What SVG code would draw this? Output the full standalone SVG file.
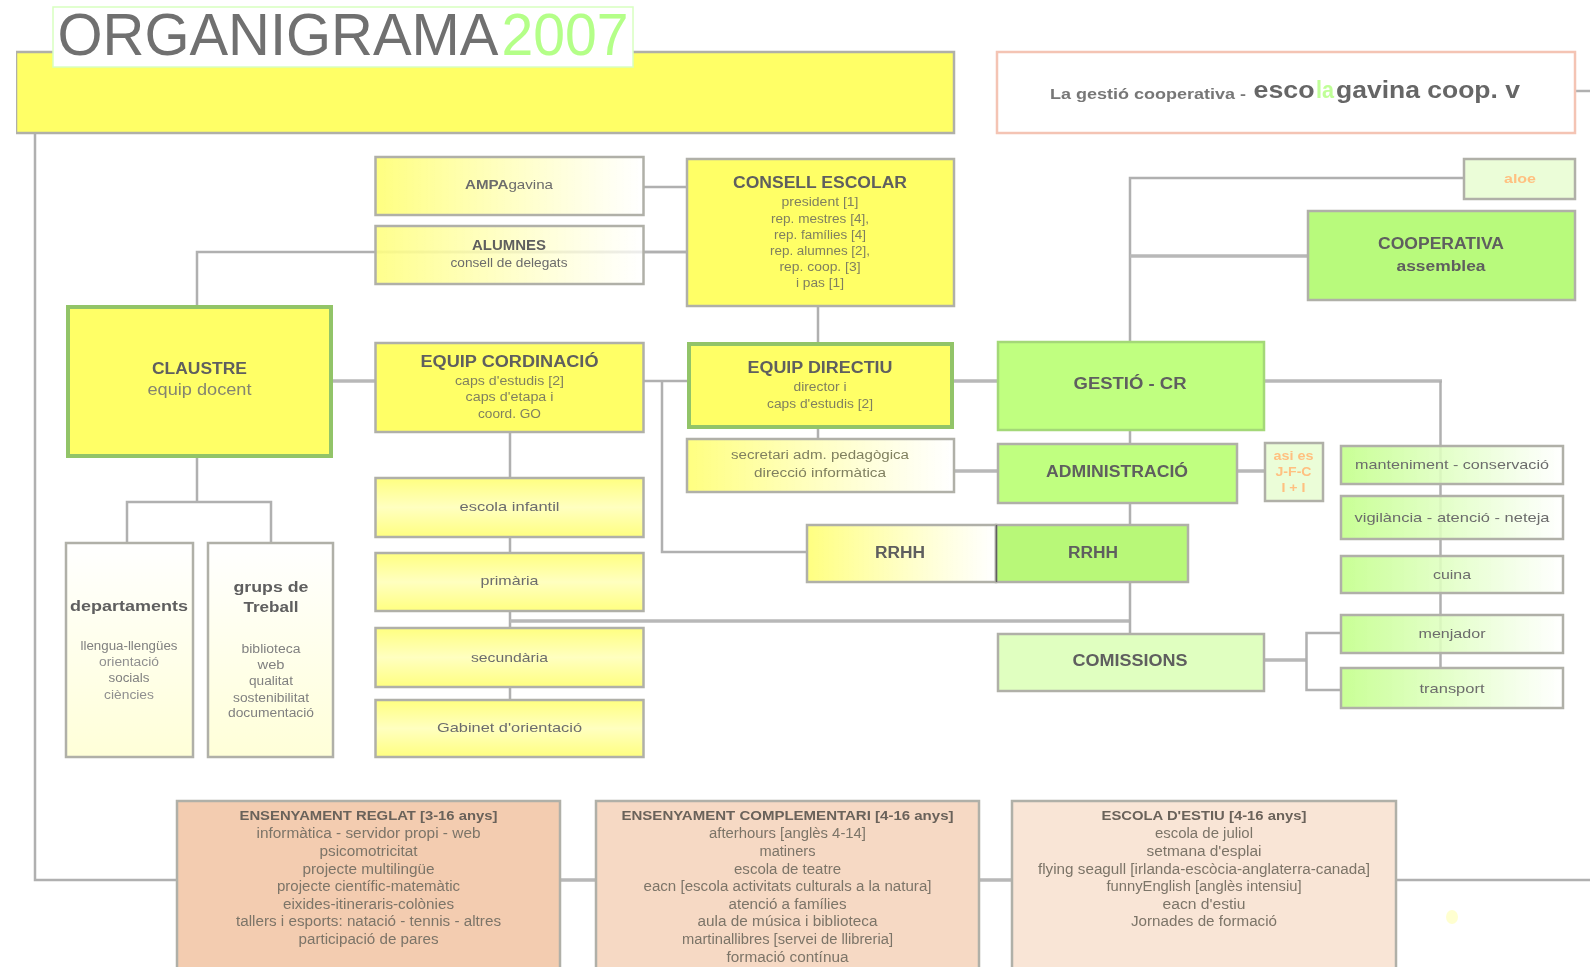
<svg xmlns="http://www.w3.org/2000/svg" width="1590" height="967" viewBox="0 0 1590 967">
<style>
text{font-family:"Liberation Sans",Arial,sans-serif;text-anchor:middle;fill:#6a6a6a}
.b{font-weight:700;font-size:16px;fill:#5e5e5e}
.s{font-size:12.5px;fill:#808060}
.m{font-size:13px;fill:#6c6c6c}
.o{font-size:12px;fill:#ffc080;font-weight:700}
.f{font-size:14px;fill:#7c7468}
.h{font-size:13.5px;font-weight:700;fill:#6a625a}
.box{stroke:#b0b0a8;stroke-width:2.5}
.con path{fill:none;stroke:#b0b0b0;stroke-width:2.5}
.con .w{stroke-width:3.5;stroke:#b8b8b8}
</style>
<defs>
<linearGradient id="yw" x1="0" x2="1" y1="0" y2="0"><stop offset="0" stop-color="#ffff80"/><stop offset="1" stop-color="#ffffff" stop-opacity=".85"/></linearGradient>
<linearGradient id="gw" x1="0" x2="1" y1="0" y2="0"><stop offset="0" stop-color="#c4ff8c" stop-opacity=".92"/><stop offset="1" stop-color="#ffffff" stop-opacity=".85"/></linearGradient>
<linearGradient id="lev" x1="0" x2="0" y1="0" y2="1"><stop offset="0" stop-color="#ffff80"/><stop offset=".5" stop-color="#ffffc0"/><stop offset="1" stop-color="#ffff80"/></linearGradient>
<linearGradient id="pale" x1="0" x2="0" y1="0" y2="1"><stop offset="0" stop-color="#ffffff"/><stop offset="1" stop-color="#ffffd8"/></linearGradient>
<filter id="soft" x="0" y="0" width="100%" height="100%"><feGaussianBlur stdDeviation="0.7"/></filter>
</defs>
<rect width="1590" height="967" fill="#ffffff"/>
<g filter="url(#soft)">
<g id="connectors" class="con">
<path d="M35 133V880H177"/>
<path class="w" d="M560 880H596M979 880H1012"/>
<path d="M1396 880H1590"/>
<path d="M1575 91H1590"/>
<path d="M643 187H687M643 252H687"/>
<path d="M818 306V342M818 428V438"/>
<path d="M700 252H197V305"/>
<path d="M375 252H643"/>
<path class="w" d="M332 381H375"/>
<path d="M643 381H687"/>
<path d="M197 457V502M127 543V502H271V543"/>
<path d="M510 432V700"/>
<path class="w" d="M510 621H1130"/>
<path d="M662 381V552H807"/>
<path class="w" d="M954 381H998M954 471H998M1237 471H1265M1264 660H1306"/>
<path d="M1464 178H1130V342"/>
<path class="w" d="M1130 256H1308"/>
<path d="M1130 430V443M1130 503V525M1130 582V634"/>
<path class="w" d="M1264 381H1442"/>
<path d="M1440.500 381V668"/>
<path d="M1341 633H1306.500V690H1341"/>
</g>
<g id="n-banner"><rect class="box" x="16" y="52" width="938" height="81" fill="#ffff66"/></g>
<g id="n-title"><rect x="53" y="7" width="580" height="60" fill="#fff" stroke="#d8ffc0" stroke-width="1.500"/>
<text x="278" y="55" font-size="60" style="fill:#707070" textLength="441" lengthAdjust="spacingAndGlyphs">ORGANIGRAMA</text>
<text x="565" y="55" font-size="60" style="fill:#b4ff88" textLength="127" lengthAdjust="spacingAndGlyphs">2007</text></g>
<g id="n-gestio-coop"><rect x="997" y="52" width="578" height="81" fill="#fff" stroke="#f4c4b4" stroke-width="2.500"/>
<text x="1148" y="99" style="font-size:15px;font-weight:700;fill:#777" textLength="196" lengthAdjust="spacingAndGlyphs">La gestió cooperativa -</text>
<text x="1284" y="98" style="font-size:24px;font-weight:700;fill:#666" textLength="61" lengthAdjust="spacingAndGlyphs">esco</text>
<text x="1325" y="98" style="font-size:24px;font-weight:700;fill:#c0ff98" textLength="18" lengthAdjust="spacingAndGlyphs">la</text>
<text x="1428" y="98" style="font-size:24px;font-weight:700;fill:#666" textLength="184" lengthAdjust="spacingAndGlyphs">gavina coop. v</text></g>
<g id="n-ampa"><rect class="box" x="375.500" y="157" width="268" height="58" fill="url(#yw)"/>
<text x="509" y="189" class="m" style="font-weight:700" textLength="88" lengthAdjust="spacingAndGlyphs">AMPA<tspan font-weight="400">gavina</tspan></text></g>
<g id="n-alumnes"><rect class="box" x="375.500" y="226" width="268" height="58" fill="url(#yw)" fill-opacity=".9"/>
<text x="509" y="250" class="b" style="font-size:14px" textLength="74" lengthAdjust="spacingAndGlyphs">ALUMNES</text>
<text x="509" y="267" class="m" textLength="117" lengthAdjust="spacingAndGlyphs">consell de delegats</text></g>
<g id="n-consell"><rect class="box" x="687" y="159" width="267" height="147" fill="#ffff66"/>
<text x="820" y="188" class="b" textLength="174" lengthAdjust="spacingAndGlyphs">CONSELL ESCOLAR</text>
<text x="820" y="206" class="s" textLength="77" lengthAdjust="spacingAndGlyphs">president [1]</text>
<text x="820" y="223" class="s" textLength="98" lengthAdjust="spacingAndGlyphs">rep. mestres [4],</text>
<text x="820" y="239" class="s" textLength="92" lengthAdjust="spacingAndGlyphs">rep. famílies [4]</text>
<text x="820" y="255" class="s" textLength="100" lengthAdjust="spacingAndGlyphs">rep. alumnes [2],</text>
<text x="820" y="271" class="s" textLength="81" lengthAdjust="spacingAndGlyphs">rep. coop. [3]</text>
<text x="820" y="287" class="s" textLength="48" lengthAdjust="spacingAndGlyphs">i pas [1]</text></g>
<g id="n-claustre"><rect x="68" y="307" width="263" height="149" fill="#ffff66" stroke="#92c468" stroke-width="4"/>
<text x="199.500" y="374" class="b" textLength="95" lengthAdjust="spacingAndGlyphs">CLAUSTRE</text>
<text x="199.500" y="395" class="m" style="font-size:16px;fill:#858570" textLength="104" lengthAdjust="spacingAndGlyphs">equip docent</text></g>
<g id="n-cordinacio"><rect class="box" x="375.500" y="343" width="268" height="89" fill="#ffff66"/>
<text x="509.500" y="367" class="b" textLength="178" lengthAdjust="spacingAndGlyphs">EQUIP CORDINACIÓ</text>
<text x="509.500" y="385" class="s" textLength="109" lengthAdjust="spacingAndGlyphs">caps d'estudis [2]</text>
<text x="509.500" y="401" class="s" textLength="88" lengthAdjust="spacingAndGlyphs">caps d'etapa i</text>
<text x="509.500" y="418" class="s" textLength="63" lengthAdjust="spacingAndGlyphs">coord. GO</text></g>
<g id="n-departaments"><rect class="box" x="66" y="543" width="127" height="214" fill="url(#pale)"/>
<text x="129" y="611" class="b" style="font-size:15px" textLength="118" lengthAdjust="spacingAndGlyphs">departaments</text>
<text x="129" y="650" class="s" style="fill:#808080" textLength="97" lengthAdjust="spacingAndGlyphs">llengua-llengües</text>
<text x="129" y="666" class="s" style="fill:#909090" textLength="60" lengthAdjust="spacingAndGlyphs">orientació</text>
<text x="129" y="682" class="s" style="fill:#808080" textLength="41" lengthAdjust="spacingAndGlyphs">socials</text>
<text x="129" y="699" class="s" style="fill:#909090" textLength="50" lengthAdjust="spacingAndGlyphs">ciències</text></g>
<g id="n-grups"><rect class="box" x="208" y="543" width="125" height="214" fill="url(#pale)"/>
<text x="271" y="592" class="b" style="font-size:15px" textLength="75" lengthAdjust="spacingAndGlyphs">grups de</text>
<text x="271" y="612" class="b" style="font-size:15px" textLength="55" lengthAdjust="spacingAndGlyphs">Treball</text>
<text x="271" y="653" class="s" style="fill:#808080" textLength="59" lengthAdjust="spacingAndGlyphs">biblioteca</text>
<text x="271" y="669" class="s" style="fill:#808080" textLength="27" lengthAdjust="spacingAndGlyphs">web</text>
<text x="271" y="685" class="s" style="fill:#808080" textLength="44" lengthAdjust="spacingAndGlyphs">qualitat</text>
<text x="271" y="702" class="s" style="fill:#808080" textLength="76" lengthAdjust="spacingAndGlyphs">sostenibilitat</text>
<text x="271" y="717" class="s" style="fill:#808080" textLength="86" lengthAdjust="spacingAndGlyphs">documentació</text></g>
<g id="n-infantil"><rect class="box" x="375.500" y="478" width="268" height="59" fill="url(#lev)"/><text x="509.500" y="511" class="m" textLength="100" lengthAdjust="spacingAndGlyphs">escola infantil</text></g>
<g id="n-primaria"><rect class="box" x="375.500" y="553" width="268" height="58" fill="url(#lev)"/><text x="509.500" y="585" class="m" textLength="58" lengthAdjust="spacingAndGlyphs">primària</text></g>
<g id="n-secundaria"><rect class="box" x="375.500" y="628" width="268" height="59" fill="url(#lev)"/><text x="509.500" y="662" class="m" textLength="77" lengthAdjust="spacingAndGlyphs">secundària</text></g>
<g id="n-gabinet"><rect class="box" x="375.500" y="700" width="268" height="57" fill="url(#lev)"/><text x="509.500" y="732" class="m" textLength="145" lengthAdjust="spacingAndGlyphs">Gabinet d'orientació</text></g>
<g id="n-directiu"><rect x="689" y="344" width="263" height="83" fill="#ffff66" stroke="#92c468" stroke-width="4"/>
<text x="820" y="373" class="b" textLength="145" lengthAdjust="spacingAndGlyphs">EQUIP DIRECTIU</text>
<text x="820" y="391" class="s" textLength="53" lengthAdjust="spacingAndGlyphs">director i</text>
<text x="820" y="408" class="s" textLength="106" lengthAdjust="spacingAndGlyphs">caps d'estudis [2]</text></g>
<g id="n-secretari"><rect class="box" x="687" y="439" width="267" height="53" fill="url(#yw)"/>
<text x="820" y="459" class="s" textLength="178" lengthAdjust="spacingAndGlyphs">secretari adm. pedagògica</text>
<text x="820" y="477" class="s" textLength="132" lengthAdjust="spacingAndGlyphs">direcció informàtica</text></g>
<g id="n-gestio"><rect x="998" y="342" width="266" height="88" fill="#c0ff80" stroke="#a4d878" stroke-width="2.500"/>
<text x="1130" y="389" class="b" textLength="113" lengthAdjust="spacingAndGlyphs">GESTIÓ - CR</text></g>
<g id="n-admin"><rect class="box" x="998" y="444" width="239" height="59" fill="#c0ff80"/>
<text x="1117" y="477" class="b" textLength="142" lengthAdjust="spacingAndGlyphs">ADMINISTRACIÓ</text></g>
<g id="n-asi"><rect class="box" x="1265" y="443" width="58" height="58" fill="#ebfdd8"/>
<text x="1293.500" y="460" class="o" textLength="40" lengthAdjust="spacingAndGlyphs">asi es</text>
<text x="1293.500" y="476" class="o" textLength="36" lengthAdjust="spacingAndGlyphs">J-F-C</text>
<text x="1293.500" y="492" class="o" textLength="24" lengthAdjust="spacingAndGlyphs">I + I</text></g>
<g id="n-rrhh1"><rect class="box" x="807" y="525" width="189" height="57" fill="url(#yw)"/><text x="900" y="558" class="b" textLength="50" lengthAdjust="spacingAndGlyphs">RRHH</text></g>
<g id="n-rrhh2"><rect class="box" x="996" y="525" width="192" height="57" fill="#b8f878"/><path d="M996.500 525V582" stroke="#606060" stroke-width="1.500"/><text x="1093" y="558" class="b" textLength="50" lengthAdjust="spacingAndGlyphs">RRHH</text></g>
<g id="n-comissions"><rect x="998" y="634" width="266" height="57" fill="#e0ffc0" stroke="#b0b0a8" stroke-width="2.500"/>
<text x="1130" y="666" class="b" textLength="115" lengthAdjust="spacingAndGlyphs">COMISSIONS</text></g>
<g id="n-aloe"><rect class="box" x="1464" y="159" width="111" height="40" fill="#ebfdd8"/><text x="1520" y="183" class="o" textLength="32" lengthAdjust="spacingAndGlyphs">aloe</text></g>
<g id="n-cooperativa"><rect class="box" x="1308" y="211" width="267" height="89" fill="#b8fa7c"/>
<text x="1441" y="249" class="b" textLength="126" lengthAdjust="spacingAndGlyphs">COOPERATIVA</text>
<text x="1441" y="271" class="b" style="font-size:15px" textLength="89" lengthAdjust="spacingAndGlyphs">assemblea</text></g>
<g id="n-manteniment"><rect class="box" x="1341" y="446" width="222" height="38" fill="url(#gw)"/><text x="1452" y="469" class="m" textLength="194" lengthAdjust="spacingAndGlyphs">manteniment - conservació</text></g>
<g id="n-vigilancia"><rect class="box" x="1341" y="496" width="222" height="43" fill="url(#gw)"/><text x="1452" y="522" class="m" textLength="195" lengthAdjust="spacingAndGlyphs">vigilància - atenció - neteja</text></g>
<g id="n-cuina"><rect class="box" x="1341" y="556" width="222" height="37" fill="url(#gw)"/><text x="1452" y="579" class="m" textLength="38" lengthAdjust="spacingAndGlyphs">cuina</text></g>
<g id="n-menjador"><rect class="box" x="1341" y="615" width="222" height="38" fill="url(#gw)"/><text x="1452" y="638" class="m" textLength="67" lengthAdjust="spacingAndGlyphs">menjador</text></g>
<g id="n-transport"><rect class="box" x="1341" y="668" width="222" height="40" fill="url(#gw)"/><text x="1452" y="693" class="m" textLength="65" lengthAdjust="spacingAndGlyphs">transport</text></g>
<g id="n-reglat"><rect class="box" x="177" y="801" width="383" height="175" fill="#f3ccb0"/>
<text x="368.500" y="820" class="h" textLength="258" lengthAdjust="spacingAndGlyphs">ENSENYAMENT REGLAT [3-16 anys]</text>
<text x="368.500" y="838" class="f" textLength="224" lengthAdjust="spacingAndGlyphs">informàtica - servidor propi - web</text>
<text x="368.500" y="856" class="f" textLength="98" lengthAdjust="spacingAndGlyphs">psicomotricitat</text>
<text x="368.500" y="874" class="f" textLength="132" lengthAdjust="spacingAndGlyphs">projecte multilingüe</text>
<text x="368.500" y="891" class="f" textLength="183" lengthAdjust="spacingAndGlyphs">projecte científic-matemàtic</text>
<text x="368.500" y="909" class="f" textLength="171" lengthAdjust="spacingAndGlyphs">eixides-itineraris-colònies</text>
<text x="368.500" y="926" class="f" textLength="265" lengthAdjust="spacingAndGlyphs">tallers i esports: natació - tennis - altres</text>
<text x="368.500" y="944" class="f" textLength="140" lengthAdjust="spacingAndGlyphs">participació de pares</text></g>
<g id="n-complementari"><rect class="box" x="596" y="801" width="383" height="175" fill="#f6d9c4"/>
<text x="787.500" y="820" class="h" textLength="332" lengthAdjust="spacingAndGlyphs">ENSENYAMENT COMPLEMENTARI [4-16 anys]</text>
<text x="787.500" y="838" class="f" textLength="157" lengthAdjust="spacingAndGlyphs">afterhours [anglès 4-14]</text>
<text x="787.500" y="856" class="f" textLength="56" lengthAdjust="spacingAndGlyphs">matiners</text>
<text x="787.500" y="874" class="f" textLength="107" lengthAdjust="spacingAndGlyphs">escola de teatre</text>
<text x="787.500" y="891" class="f" textLength="288" lengthAdjust="spacingAndGlyphs">eacn [escola activitats culturals a la natura]</text>
<text x="787.500" y="909" class="f" textLength="118" lengthAdjust="spacingAndGlyphs">atenció a famílies</text>
<text x="787.500" y="926" class="f" textLength="180" lengthAdjust="spacingAndGlyphs">aula de música i biblioteca</text>
<text x="787.500" y="944" class="f" textLength="211" lengthAdjust="spacingAndGlyphs">martinallibres [servei de llibreria]</text>
<text x="787.500" y="962" class="f" textLength="122" lengthAdjust="spacingAndGlyphs">formació contínua</text></g>
<g id="n-estiu"><rect class="box" x="1012" y="801" width="384" height="175" fill="#f9e5d6"/>
<text x="1204" y="820" class="h" textLength="205" lengthAdjust="spacingAndGlyphs">ESCOLA D'ESTIU [4-16 anys]</text>
<text x="1204" y="838" class="f" textLength="98" lengthAdjust="spacingAndGlyphs">escola de juliol</text>
<text x="1204" y="856" class="f" textLength="115" lengthAdjust="spacingAndGlyphs">setmana d'esplai</text>
<text x="1204" y="874" class="f" textLength="332" lengthAdjust="spacingAndGlyphs">flying seagull [irlanda-escòcia-anglaterra-canada]</text>
<text x="1204" y="891" class="f" textLength="195" lengthAdjust="spacingAndGlyphs">funnyEnglish [anglès intensiu]</text>
<text x="1204" y="909" class="f" textLength="83" lengthAdjust="spacingAndGlyphs">eacn d'estiu</text>
<text x="1204" y="926" class="f" textLength="146" lengthAdjust="spacingAndGlyphs">Jornades de formació</text></g>
<ellipse cx="1452" cy="917" rx="6" ry="7" fill="#ffffd0"/>
</g>
</svg>
